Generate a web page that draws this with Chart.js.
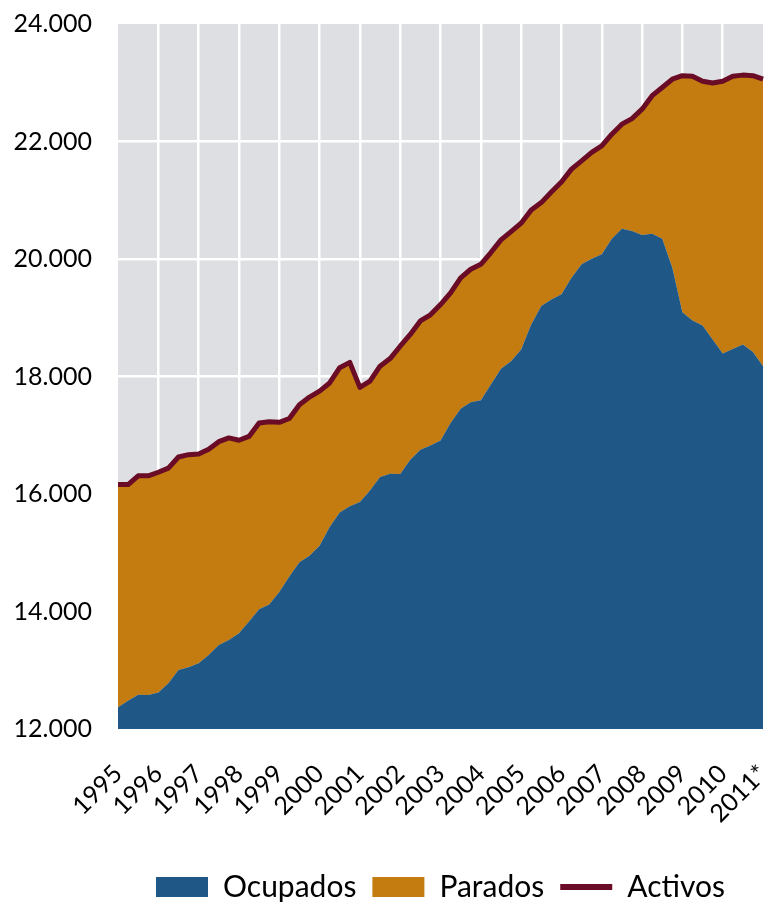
<!DOCTYPE html>
<html>
<head>
<meta charset="utf-8">
<script src="https://cdn.jsdelivr.net/npm/chart.js@4/dist/chart.umd.min.js"></script>
<style>
  html, body { margin: 0; padding: 0; background: #fff; }
  #wrap { width: 764px; height: 904px; }
</style>
</head>
<body>
<div id="wrap"><canvas id="chart" width="764" height="904"></canvas></div>
<script>
// year tick labels, one per year (quarterly data, 1995 T1 .. 2011 T1)
let years = ['1995', '1996', '1997', '1998', '1999', '2000', '2001', '2002',
             '2003', '2004', '2005', '2006', '2007', '2008', '2009', '2010', '2011*'];

// miles de personas
let ocupados = [
  12370, 12480, 12585, 12580, 12620, 12780, 13005, 13050, 13120, 13260, 13430, 13515,
  13630, 13830, 14040, 14120, 14330, 14595, 14840, 14950, 15120, 15440, 15685, 15790,
  15865, 16060, 16290, 16345, 16340, 16585, 16755, 16825, 16910, 17210, 17450, 17560,
  17595, 17865, 18130, 18260, 18460, 18885, 19200, 19310, 19400, 19680, 19910, 20005,
  20080, 20345, 20515, 20475, 20410, 20430, 20345, 19850, 19095, 18955, 18870, 18630,
  18390, 18470, 18545, 18415, 18175
];

let activos = [
  16160, 16160, 16310, 16310, 16370, 16440, 16630, 16670, 16680, 16760, 16890, 16955,
  16915, 16980, 17210, 17230, 17220, 17285, 17520, 17650, 17750, 17890, 18150, 18240,
  17815, 17920, 18175, 18305, 18515, 18715, 18945, 19050, 19225, 19425, 19680, 19825,
  19910, 20110, 20325, 20465, 20610, 20835, 20960, 21140, 21310, 21530, 21670, 21815,
  21925, 22125, 22295, 22390, 22550, 22780, 22920, 23060, 23120, 23110, 23025, 22995,
  23025, 23110, 23130, 23120, 23060
];

let colors = {
  ocupados: '#1f5886',
  parados: '#c47c10',
  activos: '#6a0c25',
  plot: '#dddfe3'
};

// one label per quarter, year text only on the first quarter
let quarters = [];
years.forEach((y, i) => {
  let n = i === years.length - 1 ? 1 : 4;
  for (let q = 0; q < n; q++) quarters.push(q === 0 ? y : '');
});

let plotBackground = {
  id: 'plotBackground',
  beforeDraw(chart) {
    let { ctx, chartArea } = chart;
    ctx.save();
    ctx.fillStyle = colors.plot;
    ctx.fillRect(chartArea.left, chartArea.top, chartArea.right - chartArea.left, chartArea.bottom - chartArea.top);
    ctx.restore();
  }
};

let font = 'Lato';

new Chart(document.getElementById('chart'), {
  type: 'line',
  data: {
    labels: quarters,
    datasets: [{
      label: 'Ocupados',
      data: ocupados,
      fill: 'start',
      backgroundColor: colors.ocupados,
      borderWidth: 0,
      pointRadius: 0,
      tension: 0
    }, {
      label: 'Activos',
      data: activos,
      fill: '-1',
      backgroundColor: colors.parados,
      borderColor: colors.activos,
      borderWidth: 5,
      borderJoinStyle: 'round',
      pointRadius: 0,
      tension: 0
    }]
  },
  options: {
    responsive: false,
    animation: false,
    layout: { padding: { top: 24, right: 1, left: 0, bottom: -8 } },
    plugins: {
      tooltip: { enabled: false },
      legend: {
        position: 'bottom',
        fullSize: false,
        labels: {
          usePointStyle: true,
          pointStyleWidth: 52,
          boxHeight: 20,
          padding: 16,
          color: '#000',
          font: { family: font, size: 30 },
          generateLabels() {
            return [
              { text: 'Ocupados', fillStyle: colors.ocupados, strokeStyle: colors.ocupados, lineWidth: 0, pointStyle: 'rect', datasetIndex: 0 },
              { text: 'Parados', fillStyle: colors.parados, strokeStyle: colors.parados, lineWidth: 0, pointStyle: 'rect', datasetIndex: 1 },
              { text: 'Activos', fillStyle: colors.activos, strokeStyle: colors.activos, lineWidth: 6, pointStyle: 'line', datasetIndex: 1 }
            ];
          }
        }
      }
    },
    scales: {
      x: {
        border: { display: false },
        grid: {
          drawTicks: false,
          lineWidth: 2.5,
          color: (c) => (c.index > 0 && c.index < quarters.length - 1 && quarters[c.index] !== '') ? '#ffffff' : 'rgba(0,0,0,0)'
        },
        ticks: {
          autoSkip: false,
          maxRotation: 45,
          minRotation: 45,
          padding: 30,
          color: '#000',
          font: { family: font, size: 25 }
        },
        afterFit(scale) {
          scale.height = 127;
          scale.paddingLeft = 0;
          scale.paddingRight = 0;
        }
      },
      y: {
        min: 12000,
        max: 24000,
        border: { display: false },
        grid: {
          drawTicks: false,
          lineWidth: 2.5,
          color: (c) => (c.tick.value > 12000 && c.tick.value < 24000) ? '#ffffff' : 'rgba(0,0,0,0)'
        },
        ticks: {
          stepSize: 2000,
          padding: 26,
          color: '#000',
          font: { family: font, size: 25 },
          callback: (v) => (v / 1000) + '.000'
        },
        afterFit(scale) {
          scale.width = 118;
          scale.paddingTop = 0;
          scale.paddingBottom = 0;
        }
      }
    }
  },
  plugins: [plotBackground]
});
</script>
</body>
</html>
